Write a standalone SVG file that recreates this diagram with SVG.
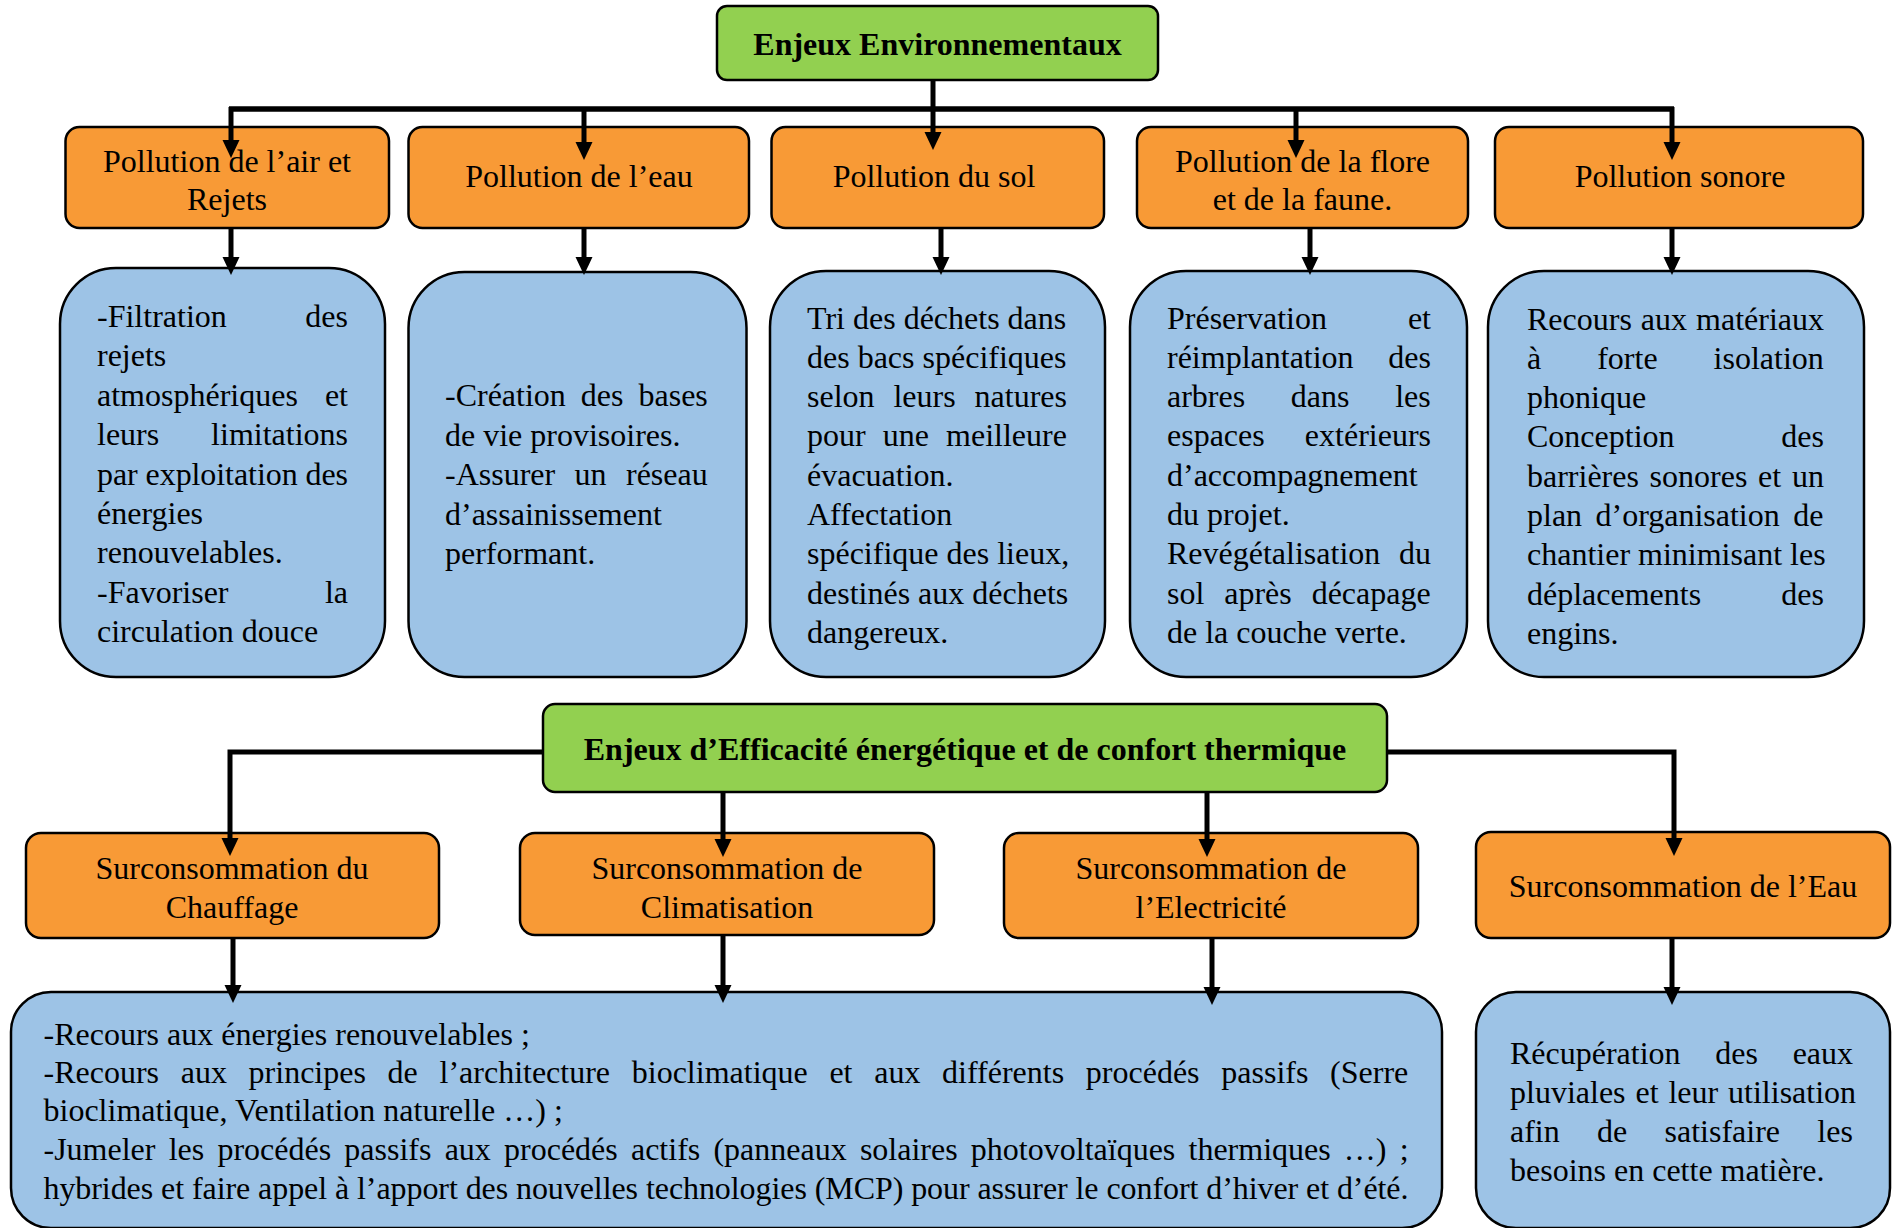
<svg xmlns="http://www.w3.org/2000/svg" width="1892" height="1228" viewBox="0 0 1892 1228">
<style>
.t{font-family:"Liberation Serif","Times New Roman",serif;font-size:32px;fill:#000}
.c{text-anchor:middle}
.e{text-anchor:end}
.b{font-weight:bold}
.g{fill:#92D050;stroke:#000;stroke-width:2.5}
.o{fill:#F89A36;stroke:#000;stroke-width:2.5}
.bl{fill:#9DC3E6;stroke:#000;stroke-width:2.5}
.ln{fill:none;stroke:#000;stroke-width:5;marker-end:url(#ah)}
.bus{fill:none;stroke:#000;stroke-width:5.5}
</style>
<defs>
<marker id="ah" markerUnits="userSpaceOnUse" markerWidth="20" markerHeight="20" viewBox="0 -10 20 20" refX="10" refY="0" orient="auto">
<path d="M0,-8.5 L18,0 L0,8.5 z" fill="#000"/>
</marker>
</defs>
<rect x="0" y="0" width="1892" height="1228" fill="#fff"/>

<g id="n-env">
<rect class="g" x="717" y="6" width="441" height="74" rx="10"/>
<text class="t c b" x="937.5" y="55">Enjeux Environnementaux</text>
</g>

<g id="n-air">
<rect class="o" x="65.5" y="127" width="323.5" height="101" rx="14"/>
<text class="t c" x="227" y="172">Pollution de l’air et</text>
<text class="t c" x="227" y="210">Rejets</text>
</g>
<g id="n-eau">
<rect class="o" x="408.5" y="127" width="340.5" height="101" rx="14"/>
<text class="t c" x="579" y="187">Pollution de l’eau</text>
</g>
<g id="n-sol">
<rect class="o" x="771.5" y="127" width="332.5" height="101" rx="14"/>
<text class="t c" x="934" y="187">Pollution du sol</text>
</g>
<g id="n-flore">
<rect class="o" x="1137" y="127" width="331" height="101" rx="14"/>
<text class="t c" x="1302.5" y="172">Pollution de la flore</text>
<text class="t c" x="1302.5" y="210">et de la faune.</text>
</g>
<g id="n-sonore">
<rect class="o" x="1495" y="127" width="368" height="101" rx="14"/>
<text class="t c" x="1680" y="187">Pollution sonore</text>
</g>

<g id="b-air">
<rect class="bl" x="60" y="268" width="325" height="409" rx="56"/>
<text class="t" x="97" y="327">-Filtration</text><text class="t e" x="348" y="327">des</text>
<text class="t" x="97" y="366.4">rejets</text>
<text class="t" x="97" y="405.8">atmosphériques</text><text class="t e" x="348" y="405.8">et</text>
<text class="t" x="97" y="445.2">leurs</text><text class="t e" x="348" y="445.2">limitations</text>
<text class="t" x="97" y="484.6" textLength="251" lengthAdjust="spacing">par exploitation des</text>
<text class="t" x="97" y="524">énergies</text>
<text class="t" x="97" y="563.4">renouvelables.</text>
<text class="t" x="97" y="602.8">-Favoriser</text><text class="t e" x="348" y="602.8">la</text>
<text class="t" x="97" y="642.2">circulation douce</text>
</g>

<g id="b-eau">
<rect class="bl" x="408.5" y="272" width="338" height="405" rx="56"/>
<text class="t" x="445" y="406" word-spacing="7">-Création des bases</text>
<text class="t" x="445" y="445.5">de vie provisoires.</text>
<text class="t" x="445" y="485" word-spacing="11.4">-Assurer un réseau</text>
<text class="t" x="445" y="524.5">d’assainissement</text>
<text class="t" x="445" y="564">performant.</text>
</g>

<g id="b-sol">
<rect class="bl" x="770" y="271" width="335" height="406" rx="56"/>
<text class="t" x="807" y="328.5">Tri des déchets dans</text>
<text class="t" x="807" y="367.8">des bacs spécifiques</text>
<text class="t" x="807" y="407" word-spacing="10.9">selon leurs natures</text>
<text class="t" x="807" y="446.4" word-spacing="9.1">pour une meilleure</text>
<text class="t" x="807" y="485.6">évacuation.</text>
<text class="t" x="807" y="525">Affectation</text>
<text class="t" x="807" y="564.2">spécifique des lieux,</text>
<text class="t" x="807" y="603.5">destinés aux déchets</text>
<text class="t" x="807" y="642.8">dangereux.</text>
</g>

<g id="b-flore">
<rect class="bl" x="1130" y="271" width="337" height="406" rx="56"/>
<text class="t" x="1167" y="328.5">Préservation</text><text class="t e" x="1431" y="328.5">et</text>
<text class="t" x="1167" y="367.8">réimplantation</text><text class="t e" x="1431" y="367.8">des</text>
<text class="t" x="1167" y="407" word-spacing="37.7">arbres dans les</text>
<text class="t" x="1167" y="446.4">espaces</text><text class="t e" x="1431" y="446.4">extérieurs</text>
<text class="t" x="1167" y="485.6">d’accompagnement</text>
<text class="t" x="1167" y="525">du projet.</text>
<text class="t" x="1167" y="564.2">Revégétalisation</text><text class="t e" x="1431" y="564.2">du</text>
<text class="t" x="1167" y="603.5" word-spacing="11.9">sol après décapage</text>
<text class="t" x="1167" y="642.8">de la couche verte.</text>
</g>

<g id="b-sonore">
<rect class="bl" x="1488" y="271" width="376" height="406" rx="56"/>
<text class="t" x="1527" y="329.5" word-spacing="1">Recours aux matériaux</text>
<text class="t" x="1527" y="368.8" word-spacing="48">à forte isolation</text>
<text class="t" x="1527" y="408">phonique</text>
<text class="t" x="1527" y="447.4">Conception</text><text class="t e" x="1824" y="447.4">des</text>
<text class="t" x="1527" y="486.6" word-spacing="2.7">barrières sonores et un</text>
<text class="t" x="1527" y="526" word-spacing="5.4">plan d’organisation de</text>
<text class="t" x="1527" y="565.2">chantier minimisant les</text>
<text class="t" x="1527" y="604.5">déplacements</text><text class="t e" x="1824" y="604.5">des</text>
<text class="t" x="1527" y="643.8">engins.</text>
</g>

<g id="n-eff">
<rect class="g" x="543" y="704" width="844" height="88" rx="12"/>
<text class="t c b" x="965" y="760">Enjeux d’Efficacité énergétique et de confort thermique</text>
</g>

<g id="n-chauf">
<rect class="o" x="26" y="833" width="413" height="105" rx="15"/>
<text class="t c" x="232" y="878.5">Surconsommation du</text>
<text class="t c" x="232" y="917.5">Chauffage</text>
</g>
<g id="n-clim">
<rect class="o" x="520" y="833" width="414" height="102" rx="15"/>
<text class="t c" x="727" y="878.5">Surconsommation de</text>
<text class="t c" x="727" y="917.5">Climatisation</text>
</g>
<g id="n-elec">
<rect class="o" x="1004" y="833" width="414" height="105" rx="15"/>
<text class="t c" x="1211" y="878.5">Surconsommation de</text>
<text class="t c" x="1211" y="917.5">l’Electricité</text>
</g>
<g id="n-eau2">
<rect class="o" x="1476" y="832" width="414" height="106" rx="15"/>
<text class="t c" x="1683" y="897">Surconsommation de l’Eau</text>
</g>

<g id="b-energie">
<rect class="bl" x="11" y="992" width="1431" height="236" rx="40"/>
<text class="t" x="43.5" y="1045">-Recours aux énergies renouvelables ;</text>
<text class="t" x="43.5" y="1083" word-spacing="13.7">-Recours aux principes de l’architecture bioclimatique et aux différents procédés passifs (Serre</text>
<text class="t" x="43.5" y="1121">bioclimatique, Ventilation naturelle …) ;</text>
<text class="t" x="43.5" y="1159.5" word-spacing="5.2">-Jumeler les procédés passifs aux procédés actifs (panneaux solaires photovoltaïques thermiques …) ;</text>
<text class="t" x="43.5" y="1198.5" textLength="1365" lengthAdjust="spacing">hybrides et faire appel à l’apport des nouvelles technologies (MCP) pour assurer le confort d’hiver et d’été.</text>
</g>

<g id="b-eau2">
<rect class="bl" x="1476" y="992" width="414" height="236" rx="40"/>
<text class="t" x="1510" y="1064" word-spacing="26.7">Récupération des eaux</text>
<text class="t" x="1510" y="1103" word-spacing="1.9">pluviales et leur utilisation</text>
<text class="t" x="1510" y="1142" word-spacing="29.3">afin de satisfaire les</text>
<text class="t" x="1510" y="1181">besoins en cette matière.</text>
</g>

<g id="connectors">
<line class="bus" x1="229" y1="109" x2="1674" y2="109"/>
<path class="ln" d="M933,80 V142"/>
<path class="ln" d="M231,107 V150"/>
<path class="ln" d="M584,107 V152"/>
<path class="ln" d="M1296,107 V150"/>
<path class="ln" d="M1672,107 V152"/>
<path class="ln" d="M231,228 V267"/>
<path class="ln" d="M584,228 V267"/>
<path class="ln" d="M941,228 V267"/>
<path class="ln" d="M1310,228 V267"/>
<path class="ln" d="M1672,228 V267"/>
<path class="ln" d="M543,752 H230 V848"/>
<path class="ln" d="M1387,752 H1674 V848"/>
<path class="ln" d="M723,792 V849"/>
<path class="ln" d="M1207,792 V849"/>
<path class="ln" d="M233,938 V995"/>
<path class="ln" d="M723,935 V995"/>
<path class="ln" d="M1212,938 V997"/>
<path class="ln" d="M1672,938 V997"/>
</g>
</svg>
